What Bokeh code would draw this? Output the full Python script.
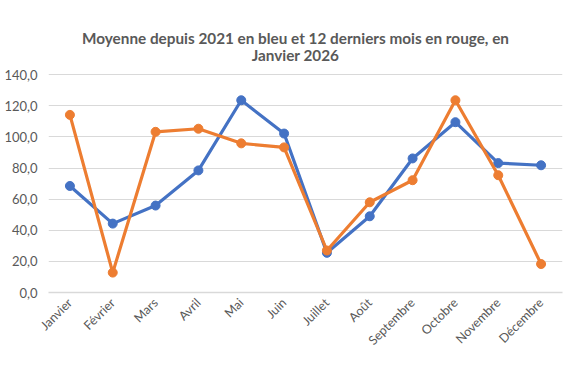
import math
from bokeh.plotting import figure
from bokeh.models import FactorRange, Range1d, FixedTicker, Label
from bokeh.embed import file_html
from bokeh.resources import INLINE

months = ["Janvier", "Février", "Mars", "Avril", "Mai", "Juin", "Juillet",
          "Août", "Septembre", "Octobre", "Novembre", "Décembre"]
moyenne = [68.5, 44.3, 55.9, 78.5, 123.6, 102.2, 25.5, 49.0, 86.2, 109.5, 83.2, 81.8]
derniers = [114.2, 12.8, 103.3, 105.3, 95.9, 93.3, 27.0, 58.0, 72.2, 123.6, 75.4, 18.3]
y_ticks = [0, 20, 40, 60, 80, 100, 120, 140]
y_tick_labels = ["0,0", "20,0", "40,0", "60,0", "80,0", "100,0", "120,0", "140,0"]
title_lines = ["Moyenne depuis 2021 en bleu et 12 derniers mois en rouge, en",
               "Janvier 2026"]

FONT = "Lato"
GREY = "#595959"

# frame extends above the 140 gridline to leave room for the title inside it
p = figure(width=570, height=358, output_backend="svg", toolbar_location=None,
           x_range=FactorRange(*months, range_padding=0),
           y_range=Range1d(0, 182.6),
           min_border_left=48, min_border_right=8, min_border_top=8,
           min_border_bottom=66)

# screen units are relative to the plot frame (bottom-left origin)
for i, line in enumerate(title_lines):
    p.add_layout(Label(x=247, y=255 - 17 * i, x_units="screen", y_units="screen",
                       text=line, text_align="center", text_baseline="middle",
                       text_font=FONT, text_font_size="15.3px", text_font_style="bold",
                       text_color=GREY))

p.line(months, moyenne, line_color="#4472C4", line_width=3.2)
p.scatter(months, moyenne, size=9, fill_color="#4472C4", line_color="#4472C4")
p.line(months, derniers, line_color="#ED7D31", line_width=3.2)
p.scatter(months, derniers, size=9, fill_color="#ED7D31", line_color="#ED7D31")

p.outline_line_color = None
p.xgrid.grid_line_color = None
p.ygrid.grid_line_color = "#D9D9D9"
p.ygrid.grid_line_width = 1

p.yaxis.ticker = FixedTicker(ticks=y_ticks)
p.yaxis.major_label_overrides = {t: l for t, l in zip(y_ticks, y_tick_labels)}
p.yaxis.axis_line_color = None
p.yaxis.major_tick_line_color = None
p.yaxis.minor_tick_line_color = None
p.yaxis.major_label_standoff = 5

p.xaxis.axis_line_color = "#D9D9D9"
p.xaxis.axis_line_width = 1.5
p.xaxis.major_tick_line_color = None
p.xaxis.minor_tick_line_color = None
p.xaxis.major_label_orientation = math.pi / 4
p.xaxis.major_label_standoff = 2

for ax in (p.xaxis, p.yaxis):
    ax.major_label_text_font = FONT
    ax.major_label_text_color = GREY
p.xaxis.major_label_text_font_size = "12.5px"
p.yaxis.major_label_text_font_size = "13px"

open("out.html", "w").write(file_html(p, INLINE))
